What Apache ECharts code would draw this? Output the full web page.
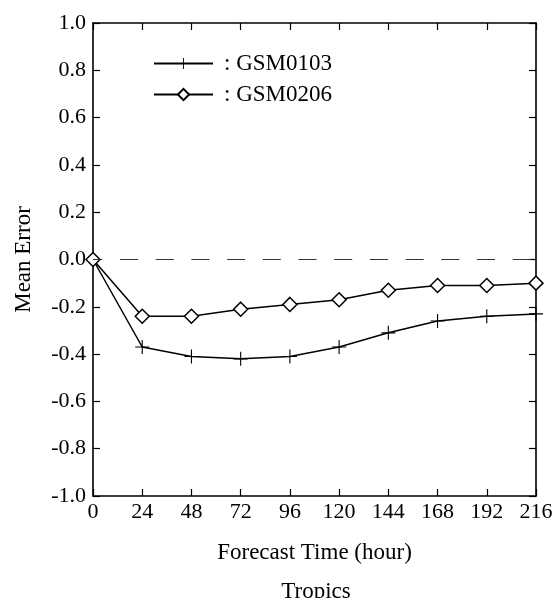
<!DOCTYPE html>
<html><head><meta charset="utf-8">
<script src="https://cdn.jsdelivr.net/npm/echarts@6/dist/echarts.min.js"></script>
<style>html,body{margin:0;padding:0;background:#fff}#c{width:557px;height:598px}</style>
</head><body><div id="c"></div>
<script>
var hours = [0, 24, 48, 72, 96, 120, 144, 168, 192, 216];
var gsm0103 = [0, -0.37, -0.41, -0.42, -0.41, -0.37, -0.31, -0.26, -0.24, -0.23];
var gsm0206 = [0, -0.24, -0.24, -0.21, -0.19, -0.17, -0.13, -0.11, -0.11, -0.10];
var seriesNames = ['GSM0103', 'GSM0206'];
var xTitle = 'Forecast Time (hour)';
var yTitle = 'Mean Error';
var subTitle = 'Tropics';

var FONT = 'Liberation Serif';
var plus = 'path://M-0.08,-1 L0.08,-1 L0.08,-0.08 L1,-0.08 L1,0.08 L0.08,0.08 L0.08,1 L-0.08,1 L-0.08,0.08 L-1,0.08 L-1,-0.08 L-0.08,-0.08 Z';
function pairs(ys){ return hours.map(function(h,i){ return [h, ys[i]]; }); }
var axisLine = {show:true, onZero:false, lineStyle:{color:'#000', width:1.6}};
var tick = {show:true, inside:true, length:7, lineStyle:{color:'#000', width:1.2}};
var chart = echarts.init(document.getElementById('c'));
chart.setOption({
  animation:false,
  backgroundColor:'#fff',
  textStyle:{fontFamily:FONT},
  title:{text:subTitle, left:316, top:580, textAlign:'center', padding:0,
    textStyle:{fontFamily:FONT, fontSize:23, fontWeight:'normal', color:'#000'}},
  grid:{left:93, right:21, top:23, bottom:102},
  legend:{orient:'vertical', left:153, top:52, itemWidth:59, itemHeight:14, itemGap:8, padding:0,
    formatter:function(n){return ': ' + n;},
    textStyle:{fontFamily:FONT, fontSize:23, color:'#000', padding:[0,0,0,6]},
    data:seriesNames},
  xAxis:[{type:'value', min:0, max:216, interval:24, position:'bottom',
    axisLine:axisLine, axisTick:tick, splitLine:{show:false},
    axisLabel:{color:'#000', fontSize:22, fontFamily:FONT, margin:5},
    name:xTitle, nameLocation:'middle', nameGap:45,
    nameTextStyle:{color:'#000', fontSize:23, fontFamily:FONT}},
   {type:'value', min:0, max:216, interval:24, position:'top',
    axisLine:axisLine, axisTick:tick, splitLine:{show:false}, axisLabel:{show:false}}],
  yAxis:[{type:'value', min:-1, max:1, interval:0.2, position:'left',
    axisLine:axisLine, axisTick:tick, splitLine:{show:false},
    axisLabel:{color:'#000', fontSize:22, fontFamily:FONT, margin:7,
      formatter:function(v){return v.toFixed(1);}},
    name:yTitle, nameLocation:'middle', nameGap:58, nameRotate:90,
    nameTextStyle:{color:'#000', fontSize:23, fontFamily:FONT}},
   {type:'value', min:-1, max:1, interval:0.2, position:'right',
    axisLine:axisLine, axisTick:tick, splitLine:{show:false}, axisLabel:{show:false}}],
  series:[
    {name:seriesNames[0], type:'line', data:pairs(gsm0103), symbol:plus, symbolSize:14,
     lineStyle:{color:'#000', width:1.5}, itemStyle:{color:'#000'},
     markLine:{silent:true, symbol:'none', label:{show:false},
       lineStyle:{color:'#333', width:1.2, type:[18,17.7], dashOffset:8.7}, data:[{yAxis:0}]}},
    {name:seriesNames[1], type:'line', data:pairs(gsm0206), symbol:'diamond', symbolSize:14,
     lineStyle:{color:'#000', width:1.5}, itemStyle:{color:'#fff', borderColor:'#000', borderWidth:1.5}}
  ]
});
</script></body></html>
